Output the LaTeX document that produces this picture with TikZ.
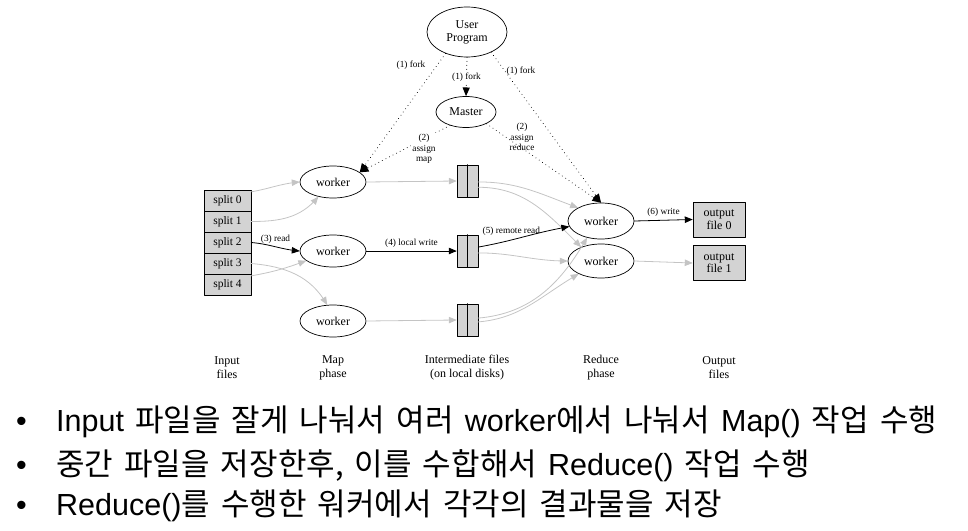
\documentclass[tikz,border=0pt]{standalone}
\usepackage{fontspec}
\setmainfont{Liberation Serif}
\newfontfamily\krfont[WordSpace=1.6]{Noto Sans CJK KR}
\newfontfamily\latinfont{Liberation Sans}
\newcommand{\latword}[1]{{\latinfont\fontsize{30.5}{36}\selectfont #1}}
\usetikzlibrary{shapes,arrows,shapes.misc,shapes.symbols}
\usetikzlibrary{positioning}
\definecolor{boxgray}{RGB}{211,211,211}
\definecolor{linegray}{RGB}{196,196,196}

\begin{document}
\begin{tikzpicture}[line cap=round,line join=round,>=triangle 45,x=1pt,y=-1pt,
		worker/.style={ellipse,draw,line width=0.7pt,minimum width=66,minimum height=32,inner sep=0pt,font=\fontsize{12}{12}\selectfont},
		splitbox/.style={rectangle,draw,fill=boxgray,line width=0.7pt,minimum width=47,minimum height=21,inner sep=0pt,font=\fontsize{11.5}{12}\selectfont},
		filebox/.style={rectangle,draw,fill=boxgray,line width=0.7pt,minimum width=21,minimum height=32,inner sep=0pt},
		outbox/.style={rectangle,draw,fill=boxgray,line width=0.7pt,minimum width=52,minimum height=35,inner sep=0pt,align=center,font=\fontsize{12}{12.5}\selectfont},
		lbl/.style={font=\fontsize{9.3}{10.3}\selectfont,align=center,inner sep=1pt},
		phase/.style={font=\fontsize{12}{14}\selectfont,align=center},
		grayarrow/.style={->,color=linegray,line width=0.8pt},
		blackarrow/.style={->,color=black,line width=0.8pt},
		dotarrow/.style={->,color=black,line width=1.0pt,dash pattern=on 0.01pt off 4pt},
		bulletline/.style={anchor=base west,inner sep=0pt,font=\krfont\fontsize{31}{36}\selectfont}]
		\useasboundingbox (0,0) rectangle (968,530);
		% nodi
		\node[ellipse,draw,line width=0.7pt,minimum width=80,minimum height=50,inner sep=0pt,align=center,font=\fontsize{12}{13}\selectfont] (user) at (467,32) {User\\Program};
		\node[ellipse,draw,line width=0.7pt,minimum width=60,minimum height=31,inner sep=0pt,font=\fontsize{12}{12}\selectfont] (master) at (466,112) {Master};
		\foreach \i in {0,...,4}
		\node[splitbox] (split\i) at (227.5,{200.5+21*\i}) {split \i};
		\node[worker] (mw1) at (333,182) {worker};
		\node[worker] (mw2) at (333,251) {worker};
		\node[worker] (mw3) at (333,321) {worker};
		\foreach \i/\y in {1/181,2/251,3/320}{
			\node[filebox] (imf\i) at (467.5,\y) {};
			\draw[line width=0.7pt] (imf\i.north) -- (imf\i.south);
		}
		\node[worker,minimum height=36] (rw1) at (601,221) {worker};
		\node[worker,minimum height=34] (rw2) at (601,261) {worker};
		\node[outbox] (out0) at (719,219.5) {output\\file 0};
		\node[outbox] (out1) at (719,263) {output\\file 1};
		% frecce grigie
		\draw[grayarrow] (split0.20) to[out=10,in=185] (mw1.west);
		\draw[grayarrow] (split1.east) to[out=0,in=-130] (mw1.-135);
		\draw[grayarrow] (split3.east) to[out=-5,in=120] (mw3.110);
		\draw[grayarrow] (split4.20) to[out=10,in=200] (mw2.200);
		\draw[grayarrow] (mw1.east) -- (imf1.west);
		\draw[grayarrow] (mw3.east) -- (imf3.west);
		\draw[grayarrow] (imf1.-5) to[out=0,in=160] (rw1.150);
		\draw[grayarrow] (imf1.-30) to[out=0,in=135] (rw2.145);
		\draw[grayarrow] (imf2.-10) to[out=0,in=180] (rw2.west);
		\draw[grayarrow] (imf3.10) to[out=5,in=-120] (rw1.-130);
		\draw[grayarrow] (imf3.-10) to[out=5,in=-150] (rw2.-150);
		\draw[grayarrow] (rw2.east) -- (out1.west);
		% frecce nere
		\draw[blackarrow] (split2.east) to[out=-5,in=175] node[lbl,above=2pt] {(3) read} (mw2.west);
		\draw[blackarrow] (mw2.east) -- node[lbl,above=2pt] {(4) local write} (imf2.west);
		\draw[blackarrow] (imf2.20) to[out=10,in=190] node[lbl,above=3pt,pos=0.35] {(5) remote read} (rw1.190);
		\draw[blackarrow] (rw1.east) -- node[lbl,above=2pt] {(6) write} (out0.west);
		% fork e assign
		\draw[dotarrow] (user.225) -- (mw1.20);
		\draw[dotarrow] (user.south) -- node[lbl,fill=white] {(1) fork} (master.north);
		\draw[dotarrow] (user.-40) -- (rw1.north);
		\draw[dotarrow] (master.220) -- (mw1.20);
		\draw[dotarrow] (master.-30) -- (rw1.north);
		\node[lbl] (fork1) at (411,65) {(1) fork};
		\node[lbl] (fork3) at (521,71) {(1) fork};
		\node[lbl,fill=white] (assignmap) at (424,149) {(2)\\assign\\map};
		\node[lbl] (assignred) at (522,137) {(2)\\assign\\reduce};
		% didascalie
		\node[phase] (inputlbl) at (227,368) {Input\\files};
		\node[phase] (maplbl) at (333,368) {Map\\phase};
		\node[phase] (imlbl) at (467,368) {Intermediate files\\(on local disks)};
		\node[phase] (redlbl) at (601,368) {Reduce\\phase};
		\node[phase] (outlbl) at (719,368) {Output\\files};
		% testo
		\foreach \i/\y in {1/431,2/475,3/515}
		\node[bulletline] (dot\i) at (16,\y) {\latword{•}};
		\node[bulletline] (line1) at (56,431) {\latword{Input} 파일을 잘게 나눠서 여러 \latword{worker}에서 나눠서 \latword{Map()} 작업 수행};
		\node[bulletline] (line2) at (56,475) {중간 파일을 저장한후, 이를 수합해서 \latword{Reduce()} 작업 수행};
		\node[bulletline] (line3) at (56,515) {\latword{Reduce()}를 수행한 워커에서 각각의 결과물을 저장};
\end{tikzpicture}
\end{document}
